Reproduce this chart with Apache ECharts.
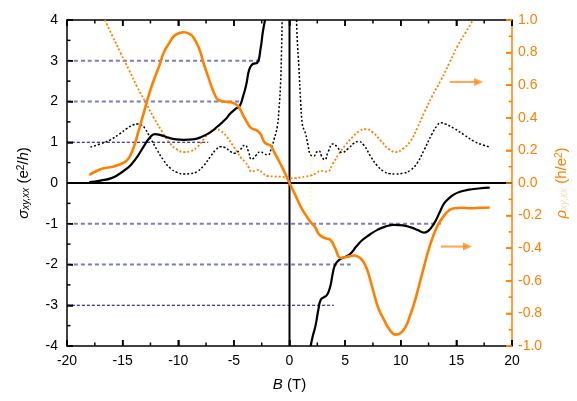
<!DOCTYPE html>
<html><head><meta charset="utf-8">
<script src="https://cdn.jsdelivr.net/npm/echarts@6/dist/echarts.min.js"></script>
<style>html,body{margin:0;padding:0;background:#fff}#c{width:577px;height:401px}</style>
</head><body><div id="c"></div>
<script>
// sigma_xy (e^2/h), [B (T), value]
var sigmaXyNeg = [[-18.0,0.02],[-17,0.06],[-16,0.12],[-15.2,0.24],[-14.6,0.36],[-14.2,0.46],[-13.6,0.68],[-13.1,0.9],[-12.6,1.1],[-12.1,1.2],[-11.5,1.17],[-11.0,1.12],[-10.2,1.07],[-9.5,1.06],[-8.7,1.07],[-8.0,1.12],[-7.2,1.23],[-6.5,1.38],[-5.8,1.55],[-5.3,1.71],[-4.8,1.83],[-4.5,1.88],[-4.2,2.1],[-3.9,2.4],[-3.6,2.8],[-3.3,2.92],[-2.9,2.95],[-2.6,3.3],[-2.4,3.7],[-2.2,4.0]];
var sigmaXyPos = [[1.9,-4.0],[2.1,-3.75],[2.34,-3.5],[2.6,-3.1],[2.8,-2.87],[3.1,-2.8],[3.3,-2.77],[3.5,-2.68],[3.7,-2.5],[3.9,-2.2],[4.1,-2.01],[4.4,-1.9],[4.7,-1.85],[5.1,-1.8],[5.5,-1.73],[6.0,-1.56],[6.55,-1.4],[7.2,-1.27],[7.9,-1.15],[8.6,-1.07],[9.4,-1.03],[10.2,-1.04],[10.9,-1.09],[11.5,-1.15],[12.1,-1.22],[12.5,-1.17],[13.0,-0.99],[13.5,-0.72],[13.9,-0.5],[14.4,-0.36],[14.8,-0.28],[15.4,-0.21],[16.0,-0.17],[17.0,-0.135],[18.0,-0.115]];
// sigma_xx (e^2/h)
var sigmaXxNeg = [[-17.9,0.88],[-17,0.96],[-16.1,1.06],[-15.3,1.2],[-14.6,1.34],[-14.1,1.42],[-13.7,1.45],[-13.3,1.42],[-13.0,1.34],[-12.5,1.1],[-11.9,0.81],[-11.3,0.55],[-10.7,0.36],[-10.1,0.26],[-9.5,0.22],[-8.9,0.23],[-8.3,0.28],[-7.7,0.43],[-7.1,0.65],[-6.6,0.82],[-6.2,0.89],[-5.8,0.87],[-5.3,0.77],[-4.9,0.73],[-4.5,0.8],[-4.0,0.93],[-3.7,0.78],[-3.4,0.58],[-3.0,0.68],[-2.6,0.77],[-2.3,0.72],[-1.95,0.69],[-1.6,0.88],[-1.4,1.06],[-1.1,1.38],[-0.95,1.8],[-0.8,2.45],[-0.72,3.2],[-0.66,4.0]];
var sigmaXxPos = [[0.63,4.0],[0.7,3.5],[0.84,2.86],[1.0,2.0],[1.14,1.47],[1.3,1.3],[1.44,1.22],[1.65,0.95],[1.9,0.69],[2.2,0.66],[2.4,0.75],[2.64,0.79],[2.9,0.65],[3.15,0.57],[3.5,0.78],[3.9,0.96],[4.3,0.88],[4.7,0.75],[5.3,0.85],[5.8,0.98],[6.2,1.02],[6.7,0.92],[7.3,0.65],[7.9,0.42],[8.5,0.28],[9.0,0.23],[9.5,0.22],[10.2,0.24],[10.9,0.32],[11.5,0.5],[12.1,0.81],[12.8,1.2],[13.3,1.42],[13.6,1.48],[14.0,1.45],[14.8,1.34],[15.7,1.18],[16.6,1.02],[17.3,0.94],[18.0,0.88]];
// rho_xy (h/e^2)
var rhoXy = [[-18.0,0.049],[-17.3,0.075],[-16.7,0.09],[-15.9,0.1],[-15.4,0.11],[-14.9,0.125],[-14.6,0.14],[-14.3,0.17],[-14.0,0.22],[-13.6,0.31],[-13.1,0.43],[-12.6,0.55],[-12.2,0.63],[-11.7,0.72],[-11.3,0.8],[-10.8,0.86],[-10.4,0.9],[-9.9,0.92],[-9.5,0.925],[-9.0,0.915],[-8.6,0.89],[-8.1,0.82],[-7.7,0.73],[-7.3,0.65],[-7.0,0.59],[-6.7,0.54],[-6.4,0.51],[-5.9,0.5],[-5.3,0.495],[-4.9,0.485],[-4.6,0.47],[-4.2,0.42],[-3.8,0.37],[-3.5,0.34],[-3.2,0.33],[-2.9,0.32],[-2.6,0.3],[-2.4,0.27],[-2.25,0.25],[-1.9,0.235],[-1.7,0.23],[-1.3,0.18],[-0.8,0.115],[-0.4,0.06],[0,0],[0.5,-0.07],[1.0,-0.145],[1.5,-0.2],[1.9,-0.24],[2.3,-0.27],[2.6,-0.31],[2.95,-0.33],[3.3,-0.34],[3.7,-0.35],[4.1,-0.4],[4.6,-0.46],[5.0,-0.455],[5.35,-0.45],[5.8,-0.445],[6.1,-0.45],[6.5,-0.47],[6.85,-0.51],[7.2,-0.58],[7.6,-0.68],[8.0,-0.77],[8.5,-0.84],[9.0,-0.9],[9.55,-0.93],[10.0,-0.92],[10.45,-0.88],[10.8,-0.82],[11.2,-0.74],[11.6,-0.64],[12.1,-0.51],[12.5,-0.41],[13.0,-0.31],[13.4,-0.25],[13.9,-0.2],[14.3,-0.17],[14.8,-0.155],[15.5,-0.152],[16.3,-0.155],[17.2,-0.152],[18.0,-0.15]];
// rho_xx (h/e^2)
var rhoXx = [[-16.6,1.0],[-15.9,0.9],[-15.2,0.8],[-14.4,0.69],[-13.7,0.59],[-12.9,0.49],[-12.2,0.4],[-11.4,0.31],[-10.7,0.24],[-10.1,0.205],[-9.5,0.19],[-8.9,0.195],[-8.3,0.22],[-7.7,0.27],[-7.2,0.31],[-6.7,0.33],[-6.2,0.32],[-5.6,0.28],[-5.1,0.23],[-4.7,0.19],[-4.3,0.15],[-4.0,0.13],[-3.7,0.1],[-3.4,0.07],[-3.1,0.075],[-2.8,0.08],[-2.4,0.06],[-2.0,0.043],[-1.4,0.04],[-0.8,0.039],[0,0.03],[0.5,0.03],[1.0,0.035],[1.5,0.04],[1.9,0.045],[2.4,0.06],[2.8,0.075],[3.1,0.072],[3.4,0.07],[3.9,0.12],[4.45,0.18],[5.0,0.23],[5.65,0.28],[6.2,0.315],[6.85,0.33],[7.5,0.31],[8.2,0.26],[8.9,0.21],[9.55,0.19],[10.2,0.21],[10.9,0.26],[11.5,0.34],[12.1,0.43],[12.8,0.53],[13.6,0.63],[14.4,0.74],[15.1,0.84],[15.8,0.92],[16.5,1.0]];
// quantized levels (sigma value, B start, B end)
var levelsLight = [[3,-20,-2.5],[2,-20,-4.3],[-1,-20,13.6],[-2,-20,5.5]];
var levelsDark = [[1,-20,-7.3],[-3,-20,4.0]];
// arrows pointing to right axis: [rho, B start, B end]
var arrows = [[0.62,14.4,17.3],[-0.39,13.6,16.3]];
var xTicks = {min:-20, max:20, interval:5};
var yLeft = {min:-4, max:4, interval:1};
var yRight = {min:-1, max:1, interval:0.2};

var FONT = '"Liberation Sans", Arial, sans-serif';
var ORANGE = '#ff8000';
var GRID = {left:67, right:65, top:20, bottom:55};
var plotW = 577 - GRID.left - GRID.right, plotH = 401 - GRID.top - GRID.bottom;
var chart = echarts.init(document.getElementById('c'));

var series = [];
// tick marks first (major + minor at half interval), as short segments through the axis scales
function tickVals(ax){ var out=[]; var n=Math.round((ax.max-ax.min)/ax.interval*2);
  for (var i=0;i<=n;i++){ out.push([ax.min+i*ax.interval/2, i%2===0?6:3.5]); } return out; }
function seg(d, yIdx, color){ series.push({type:'line', data:d, yAxisIndex:yIdx, showSymbol:false, symbol:'none',
  silent:true, clip:false, z:10, lineStyle:{color:color, width:1.5, type:'solid'}}); }
var xPerPx = (xTicks.max-xTicks.min)/plotW, yPerPx = (yLeft.max-yLeft.min)/plotH, rPerPx = (yRight.max-yRight.min)/plotH;
tickVals(xTicks).forEach(function(t){
  seg([[t[0], yLeft.min],[t[0], yLeft.min + t[1]*yPerPx]], 0, '#000');
  seg([[t[0], yLeft.max],[t[0], yLeft.max - t[1]*yPerPx]], 0, '#000');
});
tickVals(yLeft).forEach(function(t){ seg([[xTicks.min, t[0]],[xTicks.min + t[1]*xPerPx, t[0]]], 0, '#000'); });
tickVals(yRight).forEach(function(t){ seg([[xTicks.max, t[0]],[xTicks.max - t[1]*xPerPx, t[0]]], 1, ORANGE); });

function line(data, yIdx, color, width, type, z) {
  series.push({type:'line', data:data, yAxisIndex:yIdx, showSymbol:false, symbol:'none', smooth:0.5,
    lineStyle:{color:color, width:width, type:type}, z:z||2, silent:true});
}
levelsLight.forEach(function(l){ line([[l[1],l[0]],[l[2],l[0]]], 0, '#7b7bc8', 2, [4,3], 1); });
levelsDark.forEach(function(l){ line([[l[1],l[0]],[l[2],l[0]]], 0, '#00007a', 1, [3,2], 1); });
// zero lines
line([[xTicks.min,0],[xTicks.max,0]], 0, '#000', 2, 'solid', 2);
line([[0,yLeft.min],[0,yLeft.max]], 0, '#000', 2, 'solid', 2);
// faint vertical marker
line([[1.9,0.69],[1.9,-0.97]], 0, '#ffff88', 1, [2,2], 1);
line(rhoXx, 1, ORANGE, 1.8, [2,2], 3);
line(sigmaXxNeg, 0, '#000', 1.5, [2,2], 4);
line(sigmaXxPos, 0, '#000', 1.5, [2,2], 4);
line(sigmaXyNeg, 0, '#000', 2.2, 'solid', 5);
line(sigmaXyPos, 0, '#000', 2.2, 'solid', 5);
line(rhoXy, 1, ORANGE, 2.6, 'solid', 6);
arrows.forEach(function(a){ line([[a[1],a[0]],[a[2]-0.3,a[0]]], 1, '#ffa64d', 2, 'solid', 7); });
series.push({type:'scatter', yAxisIndex:1, silent:true, z:8, symbol:'triangle', symbolSize:[8,9], symbolRotate:-90,
  itemStyle:{color:'#ff8c1a'}, data:arrows.map(function(a){ return [a[2]-0.3, a[0]]; })});

function tk(c){ return {show:true, inside:true, length:6, lineStyle:{color:c, width:1.5}}; }
chart.setOption({
  animation:false,
  backgroundColor:'#fff',
  textStyle:{fontFamily:FONT},
  grid:GRID,
  xAxis:[{type:'value', min:xTicks.min, max:xTicks.max, interval:xTicks.interval, position:'bottom',
    axisLine:{show:true, onZero:false, lineStyle:{color:'#000', width:1.5}},
    axisTick:tk('#000'), splitLine:{show:false},
    axisLabel:{color:'#000', fontSize:14, margin:8, fontFamily:FONT},
    name:'{i|B} (T)', nameLocation:'middle', nameGap:31,
    nameTextStyle:{color:'#000', fontSize:15, fontFamily:FONT, rich:{i:{fontStyle:'italic', fontSize:15, fontFamily:FONT}}}},
   {type:'value', min:xTicks.min, max:xTicks.max, interval:xTicks.interval, position:'top',
    axisLine:{show:true, onZero:false, lineStyle:{color:'#000', width:1.5}},
    axisTick:tk('#000'), splitLine:{show:false}, axisLabel:{show:false}}],
  yAxis:[{type:'value', min:yLeft.min, max:yLeft.max, interval:yLeft.interval, position:'left',
    axisLine:{show:true, onZero:false, lineStyle:{color:'#000', width:1.5}},
    axisTick:tk('#000'), splitLine:{show:false},
    axisLabel:{color:'#000', fontSize:14, margin:9, fontFamily:FONT},
    name:'{s|σ}{sub|xy,xx} (e{sup|2}/{i|h})', nameLocation:'middle', nameGap:36, nameRotate:90,
    nameTextStyle:{color:'#000', fontSize:15, fontFamily:FONT, rich:{
      s:{fontStyle:'italic', fontSize:15, fontFamily:FONT},
      sub:{fontStyle:'italic', fontSize:10, fontFamily:FONT, verticalAlign:'bottom'},
      sup:{fontSize:10, fontFamily:FONT, verticalAlign:'top'},
      i:{fontStyle:'italic', fontSize:15, fontFamily:FONT}}}},
   {type:'value', min:yRight.min, max:yRight.max, interval:yRight.interval, position:'right',
    axisLine:{show:true, onZero:false, lineStyle:{color:ORANGE, width:1.5}},
    axisTick:tk(ORANGE), splitLine:{show:false},
    axisLabel:{color:ORANGE, fontSize:14, margin:6, fontFamily:FONT, formatter:function(v){return v.toFixed(1);}},
    name:'{s|ρ}{sub|xy,xx} (h/e{sup|2})', nameLocation:'middle', nameGap:42, nameRotate:90,
    nameTextStyle:{color:ORANGE, fontSize:15, fontFamily:FONT, rich:{
      s:{fontStyle:'italic', fontSize:15, color:ORANGE, fontFamily:FONT},
      sub:{fontStyle:'italic', fontSize:10, color:'#ffd9b0', fontFamily:FONT, verticalAlign:'bottom'},
      sup:{fontSize:10, color:ORANGE, fontFamily:FONT, verticalAlign:'top'}}}}],
  series:series
});
</script></body></html>
